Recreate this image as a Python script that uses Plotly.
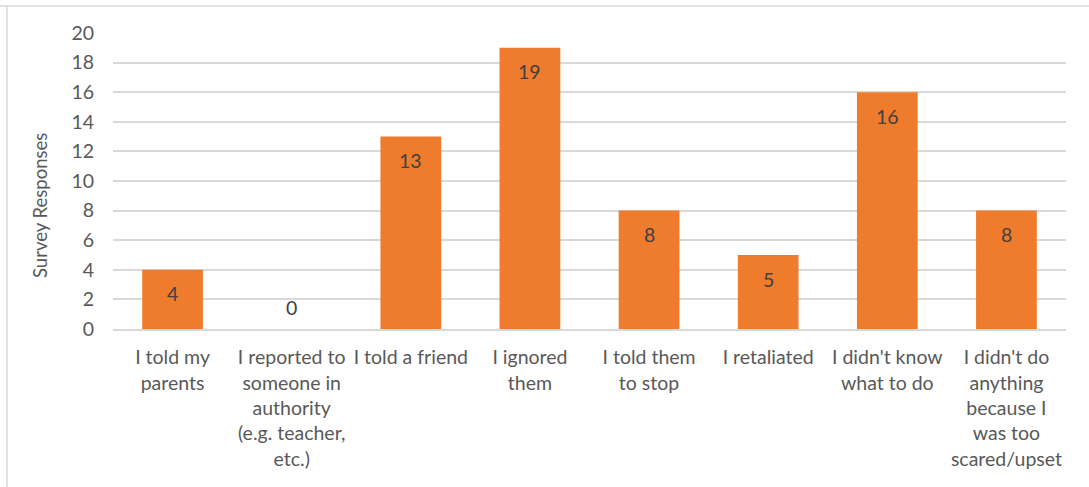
import plotly.graph_objects as go

categories = [
    "I told my<br>parents",
    "I reported to<br>someone in<br>authority<br>(e.g. teacher,<br>etc.)",
    "I told a friend",
    "I ignored<br>them",
    "I told them<br>to stop",
    "I retaliated",
    "I didn't know<br>what to do",
    "I didn't do<br>anything<br>because I<br>was too<br>scared/upset",
]
responses = [4, 0, 13, 19, 8, 5, 16, 8]
y_ticks = list(range(0, 21, 2))

FONT = "Lato, Calibri, Carlito, sans-serif"
TEXT = "#595959"
LABEL = "#404040"
SIZE = 19.5

# plot-area geometry in pixels
W, H = 1089, 487
ML, MR, MT, MB = 113, 23, 33, 158
PW, PH = W - ML - MR, H - MT - MB

fig = go.Figure(
    go.Bar(
        x=categories,
        y=responses,
        marker=dict(color="#EF7B2C", line=dict(width=0)),
        hoverinfo="x+y",
    )
)

# value labels: just under the top of each bar, above the axis for zero
for cat, val in zip(categories, responses):
    fig.add_annotation(
        x=cat, y=val, text=str(val), showarrow=False,
        yanchor="middle", yshift=-24 if val > 0 else 22,
        font=dict(family=FONT, size=SIZE, color=LABEL),
    )

fig.add_annotation(
    xref="paper", yref="paper",
    x=(40 - ML) / PW, y=(H - MB - 206) / PH,
    text="Survey Responses", textangle=-90, showarrow=False,
    xanchor="center", yanchor="middle",
    font=dict(family=FONT, size=SIZE - 1, color=TEXT),
)

fig.update_layout(
    width=W,
    height=H,
    margin=dict(l=ML, r=MR, t=MT, b=MB),
    paper_bgcolor="white",
    plot_bgcolor="white",
    bargap=0.49,
    showlegend=False,
    font=dict(family=FONT, size=SIZE, color=TEXT),
    xaxis=dict(
        tickfont=dict(family=FONT, size=SIZE, color=TEXT),
        showline=True,
        linecolor="#D9D9D9",
        linewidth=1.5,
        ticks="",
        showgrid=False,
        ticklabelstandoff=10,
    ),
    yaxis=dict(
        range=[0, 20],
        tickvals=y_ticks,
        tickfont=dict(family=FONT, size=SIZE, color=TEXT),
        showgrid=True,
        gridcolor="#D9D9D9",
        gridwidth=1.5,
        zeroline=False,
        ticks="",
        ticklabelstandoff=18,
    ),
    shapes=[
        dict(type="line", xref="paper", yref="paper",
             x0=-ML / PW, x1=(W - ML) / PW,
             y0=(H - MB - 6) / PH, y1=(H - MB - 6) / PH,
             line=dict(color="#D9D9D9", width=1.5)),
        dict(type="line", xref="paper", yref="paper",
             x0=(7 - ML) / PW, x1=(7 - ML) / PW,
             y0=-MB / PH, y1=(H - MB - 6) / PH,
             line=dict(color="#D9D9D9", width=1.5)),
    ],
)

fig.write_html("out.html")
